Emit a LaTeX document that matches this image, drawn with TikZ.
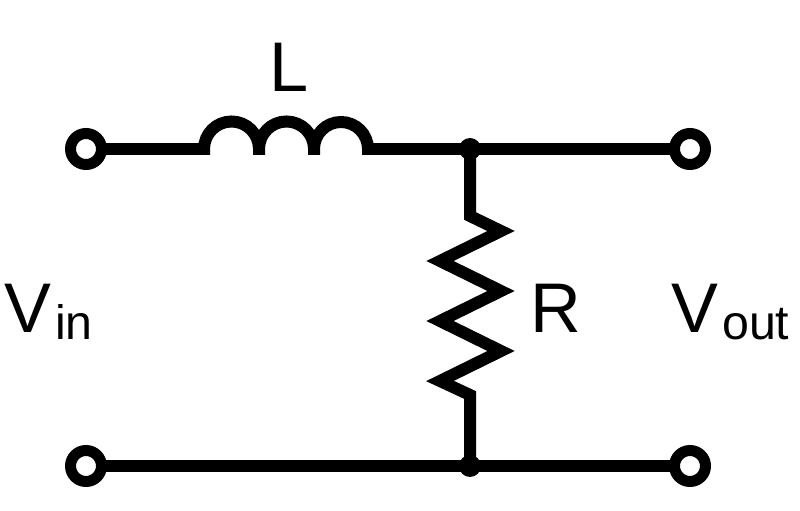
\documentclass[tikz,border=0pt]{standalone}
\usepackage{fontspec}
\setmainfont{Liberation Sans}
\usetikzlibrary{positioning,calc}
\tikzset{
    x=0.02cm,
    y=0.02cm,
    wire/.style = {
        draw,
        line width=0.24cm,
        line join=miter
    },
    terminal/.style = {
        draw,
        shape=circle,
        fill=white,
        inner sep=0pt,
        outer sep=0pt,
        minimum size=0.62cm,
        line width=0.22cm
    },
    junction/.style = {
        shape=circle,
        fill=black,
        inner sep=0pt,
        outer sep=0pt,
        minimum size=0.44cm
    },
    label/.style = {
        anchor=base west,
        inner sep=0pt,
        font=\fontsize{40}{40}\selectfont
    },
}
\newcommand{\lowtext}[1]{\kern0.08cm\raisebox{-0.14cm}{\fontsize{27.5}{27.5}\selectfont #1}}

\begin{document}
\begin{tikzpicture}
            \useasboundingbox (0,0) rectangle (800,510);

            \node[terminal] (vinp) at (86,361) {};
            \node[terminal] (vinn) at (86,44) {};
            \node[terminal] (voutp) at (690,361) {};
            \node[terminal] (voutn) at (690,44) {};
            \node[junction] (jtop) at (470,361) {};
            \node[junction] (jbot) at (470,44) {};

            \coordinate (indl) at (204,361);
            \coordinate (indr) at (368,361);
            \coordinate (restop) at (470,294);
            \coordinate (resbot) at (470,115);

            \path[wire] (vinp) -- (indl);
            \path[wire] (indl) ++(0,-6) -- ++(0,6) arc (180:0:27.5) -- ++(0,-6) -- ++(0,6)
                arc (180:0:27.5) -- ++(0,-6) -- ++(0,6) arc (180:0:27) -- ++(0,-6);
            \path[wire] (indr) -- (jtop.center);
            \path[wire] (jtop.center) -- (voutp);

            \path[wire] (jtop.center) -- (restop) -- ++(31,-15) -- ++(-61,-30) -- ++(61,-30)
                -- ++(-61,-30) -- ++(61,-30) -- ++(-61,-30) -- (resbot) -- (jbot.center);

            \path[wire] (vinn) -- (jbot.center);
            \path[wire] (jbot.center) -- (voutn);

            \node[label] (lind) at (269,418) {L};
            \node[label] (lres) at (530,177) {R};
            \node[label] (lvin) at (4,177) {V\lowtext{in}};
            \node[label] (lvout) at (671,177) {V\lowtext{out}};
        \end{tikzpicture}
\end{document}
